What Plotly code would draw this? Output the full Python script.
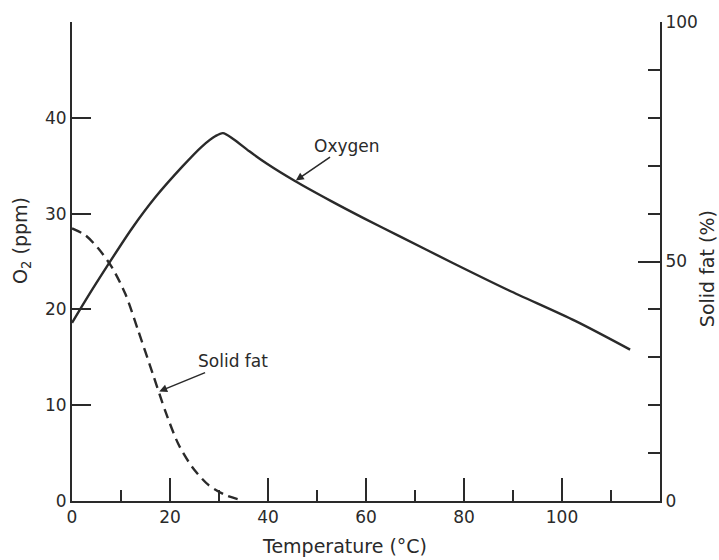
import plotly.graph_objects as go

# Oxygen concentration (left axis, ppm)
temp_oxygen = [0, 2.7, 7.4, 12.3, 17.0, 22.5, 26.5, 29.3, 30.8, 32.9, 36.2, 39.8, 45.5,
               52.9, 59.6, 66.6, 77.5, 89.1, 102.7, 113.9]
oxygen_ppm = [18.6, 20.9, 24.7, 28.5, 31.7, 34.9, 37.0, 38.1, 38.4, 37.8, 36.5, 35.2, 33.4,
              31.3, 29.5, 27.7, 24.9, 22.0, 18.8, 15.8]

# Solid fat content (right axis, %)
temp_fat = [0, 2.7, 5.3, 8.2, 10.9, 13.5, 16.4, 19.1, 21.7, 24.6, 27.9, 31.4, 33.8]
solid_fat_pct = [56.9, 55.5, 52.8, 48.7, 43.2, 35.6, 26.8, 18.6, 11.9, 7.0, 3.3, 1.2, 0.4]

x_ticks = [0, 20, 40, 60, 80, 100]
x_minor = [10, 30, 50, 70, 90, 110]
y_ticks = [0, 10, 20, 30, 40]
y2_ticks = [0, 50, 100]
y2_minor = [10, 20, 30, 40, 60, 70, 80, 90]

INK = "#2a2a2a"
FONT = "DejaVu Sans"

fig = go.Figure()
fig.add_trace(go.Scatter(x=temp_oxygen, y=oxygen_ppm, mode="lines",
                         line=dict(color=INK, width=2.4, shape="spline", smoothing=0.8),
                         yaxis="y", showlegend=False))
fig.add_trace(go.Scatter(x=temp_fat, y=solid_fat_pct, mode="lines",
                         line=dict(color=INK, width=2.4, shape="spline", smoothing=0.8,
                                   dash="10px,6px"),
                         yaxis="y2", showlegend=False))

axis_common = dict(showline=True, linecolor=INK, linewidth=2, showgrid=False,
                   zeroline=False, ticks="inside", tickcolor=INK, tickwidth=2,
                   tickfont=dict(family=FONT, size=17, color=INK))

fig.update_layout(
    width=719, height=560,
    margin=dict(l=72, r=59, t=13, b=59),
    paper_bgcolor="white", plot_bgcolor="white",
    xaxis=dict(range=[0, 120], tickmode="array", tickvals=x_ticks, ticklen=23,
               minor=dict(tickmode="array", tickvals=x_minor, ticklen=11,
                          ticks="inside", tickwidth=2, tickcolor=INK),
               **axis_common),
    yaxis=dict(range=[0, 50], tickmode="array", tickvals=y_ticks, ticklen=19,
               **axis_common),
    yaxis2=dict(range=[0, 100], overlaying="y", side="right", tickmode="array",
                tickvals=y2_ticks, ticklen=22,
                minor=dict(tickmode="array", tickvals=y2_minor, ticklen=12,
                           ticks="inside", tickwidth=2, tickcolor=INK),
                **axis_common),
)

txt = dict(family=FONT, size=17, color=INK)
title_font = dict(family=FONT, size=19, color=INK)
annotations = [
    # curve labels with pointer arrows (text sits at the arrow tail)
    dict(x=45.5, y=33.4, ax=56.1, ay=37.1, xref="x", yref="y", axref="x", ayref="y",
         text="Oxygen", font=txt, showarrow=True, arrowhead=2, arrowsize=1,
         arrowwidth=1.6, arrowcolor=INK, standoff=1),
    dict(x=17.6, y=11.4, ax=32.9, ay=14.6, xref="x", yref="y", axref="x", ayref="y",
         text="Solid fat", font=txt, showarrow=True, arrowhead=2, arrowsize=1,
         arrowwidth=1.6, arrowcolor=INK, standoff=1),
    # axis titles
    dict(x=0, y=0.543, xref="paper", yref="paper", xshift=-50, text="O<sub>2</sub> (ppm)",
         textangle=-90, showarrow=False, font=title_font, xanchor="center", yanchor="middle"),
    dict(x=1, y=0.484, xref="paper", yref="paper", xshift=47, text="Solid fat (%)",
         textangle=-90, showarrow=False, font=title_font, xanchor="center", yanchor="middle"),
    dict(x=0.463, y=0, xref="paper", yref="paper", yshift=-45, text="Temperature (°C)",
         showarrow=False, font=title_font, xanchor="center", yanchor="middle"),
]
fig.update_layout(annotations=annotations)

fig.write_html("out.html")
